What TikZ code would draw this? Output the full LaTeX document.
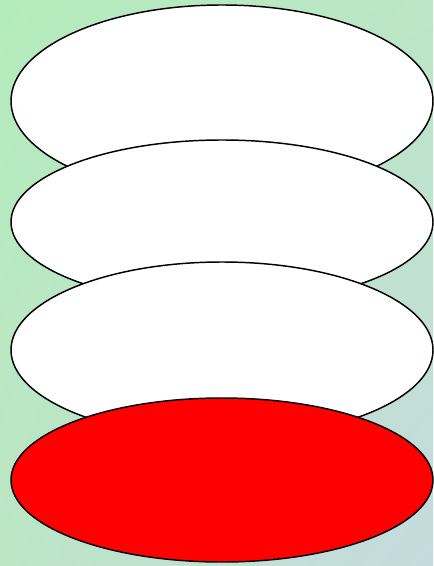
\documentclass[tikz,border=0pt]{standalone}
\usepackage{tikz}
\usetikzlibrary{shapes.geometric,shadings}
\definecolor{BgGreen}{HTML}{B4EBBC}
\definecolor{BgMint}{HTML}{BCE6C6}
\definecolor{BgGrey}{HTML}{C5DADE}

\begin{document}
\begin{tikzpicture}[x=0.75pt,y=-0.75pt]
\tikzstyle{disc}=[draw,ellipse,line width=1.1pt,inner sep=0pt,minimum width=316.5pt,fill=white]
% background
\shade[upper left=BgGreen,upper right=BgMint,lower left=BgMint,lower right=BgGrey] (0,0) rectangle (433,566);
\useasboundingbox (0,0) rectangle (433,566);
\node[disc,minimum height=144pt] (e1) at (222,101) {};
\node[disc,minimum height=123pt] (e2) at (222,222) {};
\node[disc,minimum height=132pt] (e3) at (222,350) {};
\node[disc,minimum height=123pt,fill=red] (e4) at (222,480) {};
\end{tikzpicture}
\end{document}
